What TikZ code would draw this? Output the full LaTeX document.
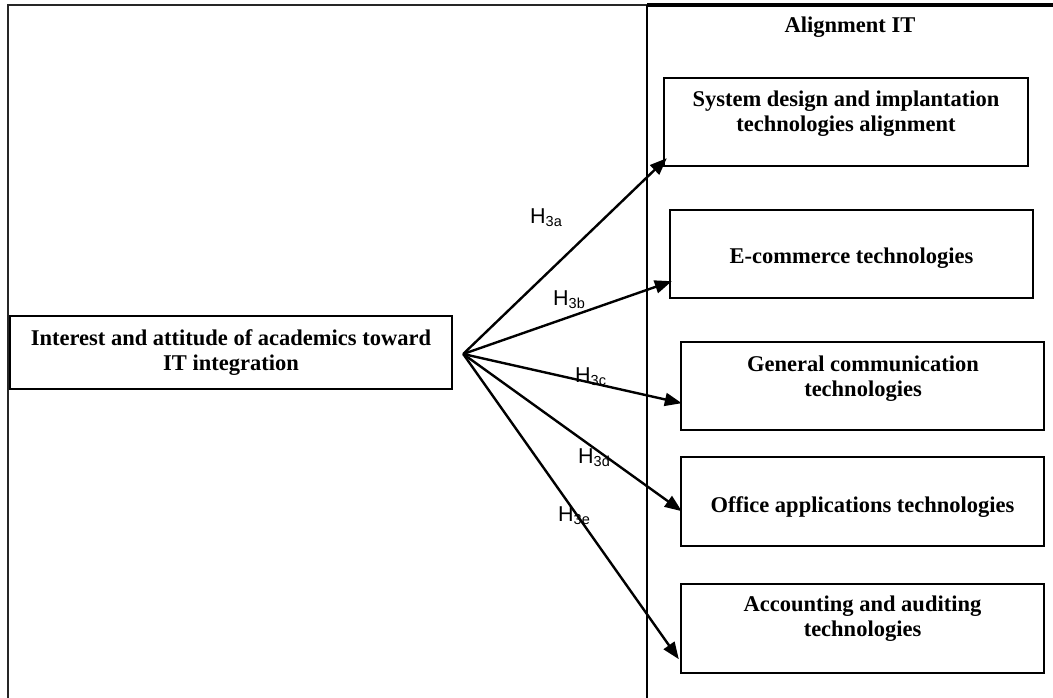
\documentclass[tikz,border=0pt]{standalone}
\usepackage{fontspec}
\setmainfont{Liberation Serif}
\newfontfamily\lsans{Liberation Sans}
\usetikzlibrary{arrows.meta,calc}
\newcommand\hyp[1]{{\lsans\fontsize{21.5}{21.5}\selectfont H\raisebox{-3pt}{\fontsize{14.5}{14.5}\selectfont #1}}}
\begin{document}
\begin{tikzpicture}[x=1pt,y=-1pt,
  boxshape/.style={draw,line width=2.4pt,inner sep=0pt},
  boxtext/.style={font=\bfseries\fontsize{22.5}{25}\selectfont,align=center,inner sep=0pt},
  hlabel/.style={anchor=base west,inner sep=0pt},
  ar/.style={line width=2.4pt,-{Triangle[length=17pt,width=13pt]}},
  frame/.style={line width=2.2pt,black!85}
]
\useasboundingbox (0,0) rectangle (1053,698);
% frame
\draw[frame] (8,698) -- (8,5) -- (647,5);
\draw[line width=3.5pt] (647,5) -- (1053,5);
\draw[line width=2.4pt] (647,5) -- (647,698);
\node[boxtext,anchor=base] (title) at (850,33) {Alignment IT};
% left box
\node[boxshape,boxtext,minimum width=442pt,minimum height=73pt] (src) at (231,352.5)
  {Interest and attitude of academics toward\\IT integration};
% right boxes
\node[boxshape,minimum width=364pt,minimum height=88pt] (b1) at (846,122) {};
\node[boxtext] (t1) at (846,114) {System design and implantation\\technologies alignment};
\node[boxshape,minimum width=363pt,minimum height=88pt] (b2) at (851.5,254) {};
\node[boxtext] (t2) at (851.5,258) {E-commerce technologies};
\node[boxshape,minimum width=363pt,minimum height=88pt] (b3) at (862.5,386) {};
\node[boxtext] (t3) at (863,379) {General communication\\technologies};
\node[boxshape,minimum width=363pt,minimum height=89pt] (b4) at (862.5,501.5) {};
\node[boxtext] (t4) at (862.5,507) {Office applications technologies};
\node[boxshape,minimum width=363pt,minimum height=89pt] (b5) at (862.5,628.5) {};
\node[boxtext] (t5) at (862.5,619) {Accounting and auditing\\technologies};
% connectors
\coordinate (s) at ($(src.east)+(10,1.5)$);
\coordinate (e1) at ($(b1.south west)+(4,-9)$);
\coordinate (e2) at ($(b2.south west)+(3,-18)$);
\coordinate (e3) at ($(b3.south west)+(2,-28)$);
\coordinate (e4) at ($(b4.south west)+(2,-36)$);
\coordinate (e5) at ($(b5.south west)+(-1,-15)$);
\foreach \e in {e1,e2,e3,e4,e5} \draw[ar] (s) -- (\e);
% labels
\node[hlabel] (h1) at (530,223) {\hyp{3a}};
\node[hlabel] (h2) at (553,305) {\hyp{3b}};
\node[hlabel] (h3) at (575,382) {\hyp{3c}};
\node[hlabel] (h4) at (578,463) {\hyp{3d}};
\node[hlabel] (h5) at (558,521) {\hyp{3e}};
\end{tikzpicture}
\end{document}
